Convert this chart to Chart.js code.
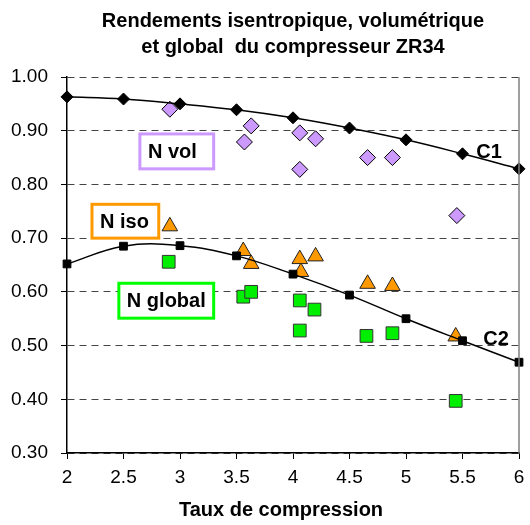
<!DOCTYPE html>
<html><head><meta charset="utf-8">
<script src="https://cdn.jsdelivr.net/npm/chart.js@4/dist/chart.umd.min.js"></script>
<style>html,body{margin:0;padding:0;background:#fff}</style>
</head><body>
<canvas id="c" width="530" height="525"></canvas>
<script>
// Curve C1 (volumetric fit) and C2 (isentropic/global fit)
const c1X = [2, 2.5, 3, 3.5, 4, 4.5, 5, 5.5, 6];
const c1Y = [0.963, 0.959, 0.950, 0.939, 0.924, 0.905, 0.883, 0.857, 0.829];
const c2X = [2, 2.5, 3, 3.5, 4, 4.5, 5, 5.5, 6];
const c2Y = [0.652, 0.685, 0.686, 0.667, 0.633, 0.594, 0.550, 0.509, 0.469];
// Measured points
const volX = [2.91, 3.57, 3.63, 4.06, 4.06, 4.20, 4.66, 4.88, 5.45];
const volY = [0.940, 0.879, 0.909, 0.896, 0.828, 0.885, 0.850, 0.850, 0.742];
const isoX = [2.91, 3.56, 3.63, 4.06, 4.07, 4.20, 4.66, 4.88, 5.44];
const isoY = [0.722, 0.676, 0.652, 0.661, 0.637, 0.666, 0.615, 0.611, 0.517];
const globX = [2.90, 3.56, 3.63, 4.06, 4.06, 4.19, 4.65, 4.88, 5.44];
const globY = [0.656, 0.591, 0.600, 0.584, 0.528, 0.567, 0.518, 0.523, 0.397];
// Texts
const titleLines = ['Rendements isentropique, volumétrique', 'et global  du compresseur ZR34'];
const xTitle = 'Taux de compression';
const boxTexts = ['N vol', 'N iso', 'N global'];
const curveTexts = ['C1', 'C2'];

const pts = (xs, ys) => xs.map((x, i) => ({x: x, y: ys[i]}));

// annotation placement (in data units)
const boxPlace = [
  {x1: 2.645, x2: 3.298, y1: 0.894, y2: 0.829, color: '#CC99FF'},
  {x1: 2.221, x2: 2.812, y1: 0.763, y2: 0.700, color: '#FF9900'},
  {x1: 2.459, x2: 3.298, y1: 0.616, y2: 0.551, color: '#00FF00'}
];
const curvePlace = [{x: 5.735, y: 0.862}, {x: 5.797, y: 0.514}];

const FONT = '"Liberation Sans", Arial, sans-serif';
Chart.defaults.font.family = FONT;
Chart.defaults.color = '#000';

const deco = {
  id: 'deco',
  afterDatasetsDraw(chart) {
    const {ctx, chartArea: a, scales: {x, y}} = chart;
    ctx.save();
    ctx.strokeStyle = '#808080';
    ctx.lineWidth = 1.5;
    ctx.beginPath();
    ctx.moveTo(a.right, a.top);
    ctx.lineTo(a.right, a.bottom);
    ctx.stroke();
    ctx.font = 'bold 20px ' + FONT;
    ctx.textBaseline = 'middle';
    ctx.textAlign = 'left';
    boxPlace.forEach((b, i) => {
      const l = x.getPixelForValue(b.x1), r = x.getPixelForValue(b.x2);
      const t = y.getPixelForValue(b.y1), bt = y.getPixelForValue(b.y2);
      ctx.fillStyle = '#fff';
      ctx.fillRect(l, t, r - l, bt - t);
      ctx.strokeStyle = b.color;
      ctx.lineWidth = 3;
      ctx.strokeRect(l, t, r - l, bt - t);
      ctx.fillStyle = '#000';
      ctx.fillText(boxTexts[i], l + 8, (t + bt) / 2 + 1);
    });
    ctx.textAlign = 'center';
    curvePlace.forEach((p, i) => {
      ctx.fillText(curveTexts[i], x.getPixelForValue(p.x), y.getPixelForValue(p.y) + 1);
    });
    ctx.restore();
  },
  afterDraw(chart) {
    const {ctx, chartArea: a} = chart;
    ctx.save();
    ctx.fillStyle = '#000';
    ctx.font = 'bold 20px ' + FONT;
    ctx.textAlign = 'center';
    ctx.textBaseline = 'alphabetic';
    const cx = (a.left + a.right) / 2;
    ctx.fillText(titleLines[0], cx, a.top - 50);
    ctx.fillText(titleLines[1], cx, a.top - 24);
    ctx.fillText(xTitle, cx - 12, a.bottom + 63);
    ctx.restore();
  }
};

new Chart(document.getElementById('c'), {
  type: 'scatter',
  data: {
    datasets: [
      {label: 'C1', data: pts(c1X, c1Y), showLine: true, borderColor: '#000', borderWidth: 1.5, tension: 0.4,
       pointStyle: 'rectRot', pointRadius: 6, backgroundColor: '#000', pointBorderColor: '#000', pointBorderWidth: 1, order: 0, clip: false},
      {label: 'C2', data: pts(c2X, c2Y), showLine: true, borderColor: '#000', borderWidth: 1.5, tension: 0.4,
       pointStyle: 'rect', pointRadius: 5.5, backgroundColor: '#000', pointBorderColor: '#000', pointBorderWidth: 1, order: 0, clip: false},
      {label: 'N vol', data: pts(volX, volY), pointStyle: 'rectRot', pointRadius: 8, backgroundColor: '#CC99FF',
       borderColor: '#000', borderWidth: 1, order: 3, clip: false},
      {label: 'N iso', data: pts(isoX, isoY), pointStyle: 'triangle', pointRadius: 9, backgroundColor: '#FF9900',
       borderColor: '#222', borderWidth: 1, order: 2, clip: false},
      {label: 'N global', data: pts(globX, globY), pointStyle: 'rect', pointRadius: 9, backgroundColor: '#00EE00',
       borderColor: '#333', borderWidth: 1, order: 1, clip: false}
    ]
  },
  options: {
    responsive: false,
    animation: false,
    devicePixelRatio: 1,
    layout: {padding: {top: 77, right: 11, left: 0, bottom: 0}, autoPadding: false},
    plugins: {legend: {display: false}, title: {display: false}, tooltip: {enabled: false}},
    scales: {
      x: {
        type: 'linear', min: 2, max: 6,
        ticks: {stepSize: 0.5, color: '#000', font: {size: 19}, padding: 7, maxRotation: 0, autoSkip: false,
                callback: v => String(Number(v))},
        grid: {drawOnChartArea: false, drawTicks: true, tickLength: 6, tickColor: '#000', tickWidth: 1},
        border: {color: '#000', width: 1.5},
        afterFit(s) { s.height = 72; s.paddingLeft = 0; s.paddingRight = 0; }
      },
      y: {
        type: 'linear', min: 0.3, max: 1.0,
        ticks: {stepSize: 0.1, color: '#000', font: {size: 19}, padding: 13, callback: v => Number(v).toFixed(2)},
        grid: {color: '#444', lineWidth: 1, tickLength: 6, tickColor: '#000', tickWidth: 1},
        border: {color: '#000', width: 1.5, dash: [7, 5]},
        afterFit(s) { s.width = 67; s.paddingTop = 0; s.paddingBottom = 0; }
      }
    }
  },
  plugins: [deco]
});
</script>
</body></html>
